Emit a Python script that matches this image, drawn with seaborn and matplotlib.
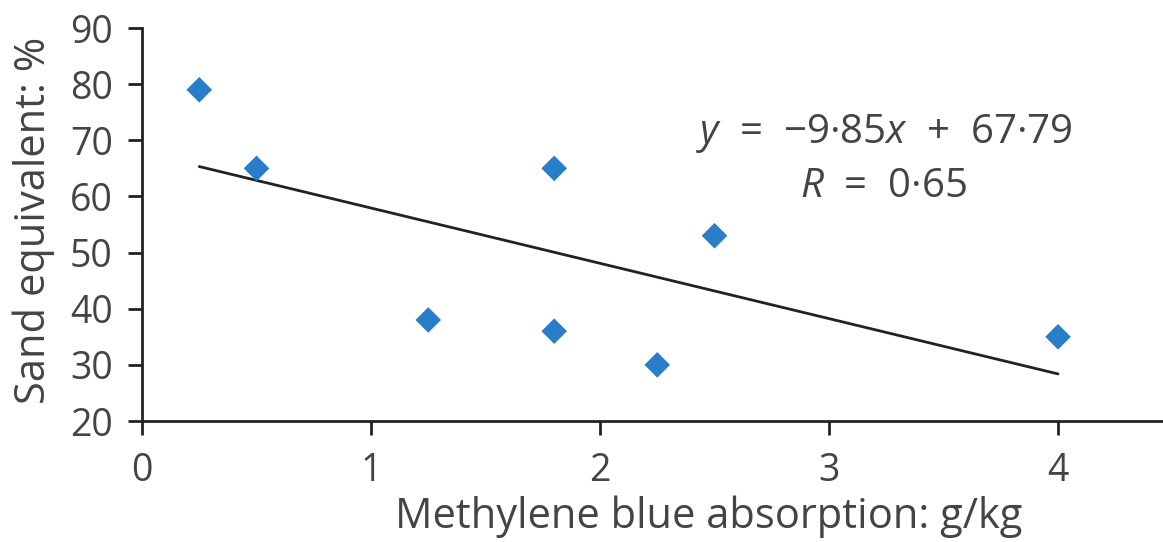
import matplotlib
matplotlib.use('Agg')
import matplotlib.pyplot as plt
import seaborn as sns
import numpy as np
import pandas as pd

# data
mb_absorption = [0.25, 0.5, 1.25, 1.8, 1.8, 2.25, 2.5, 4.0]
sand_equiv = [79, 65, 38, 65, 36, 30, 53, 35]
slope, intercept = -9.85, 67.79
eq_label = r'$\mathit{y}$  =  −9·85$\mathit{x}$  +  67·79'
r_label = r'$\mathit{R}$  =  0·65'

sns.set_style('ticks')
plt.rcParams['font.family'] = ['Open Sans', 'DejaVu Sans']
plt.rcParams['mathtext.fontset'] = 'custom'
plt.rcParams['mathtext.rm'] = 'Open Sans'
plt.rcParams['mathtext.it'] = 'Open Sans:italic'

df = pd.DataFrame({'x': mb_absorption, 'y': sand_equiv})
fit_x = np.array([min(mb_absorption), max(mb_absorption)])
fit = pd.DataFrame({'x': fit_x, 'y': slope * fit_x + intercept})

fig = plt.figure(figsize=(11.63, 5.42), dpi=100)
# the original x axis runs on past the right edge of the picture
ax = fig.add_axes([0.1221, 0.2232, 0.9747, 0.7251])

sns.lineplot(data=fit, x='x', y='y', color='#222222', lw=2, ax=ax)
sns.scatterplot(data=df, x='x', y='y', marker='D', s=170, color='#2a7dc8',
                edgecolor='none', ax=ax, zorder=3)

txt = '#444444'
ax.text(3.24, 71.3, eq_label, ha='center', va='center', fontsize=29, color=txt)
ax.text(3.24, 61.8, r_label, ha='center', va='center', fontsize=29, color=txt)

ax.set_xlim(0, 4.95)
ax.set_ylim(20, 90)
ax.set_xticks([0, 1, 2, 3, 4])
ax.set_yticks(range(20, 91, 10))
ax.set_xlabel('Methylene blue absorption: g/kg', fontsize=30, color=txt, labelpad=4)
ax.set_ylabel('Sand equivalent: %', fontsize=30, color=txt)
ax.yaxis.set_label_coords(-0.077, 0.51)
ax.tick_params(axis='both', labelsize=27, length=10, width=2, colors='#222222',
               labelcolor=txt)
ax.tick_params(axis='x', pad=12)
ax.tick_params(axis='y', pad=11)
for s in ['top', 'right']:
    ax.spines[s].set_visible(False)
for s in ['left', 'bottom']:
    ax.spines[s].set_linewidth(2)
    ax.spines[s].set_color('#222222')

fig.savefig('out.png', dpi=100)
